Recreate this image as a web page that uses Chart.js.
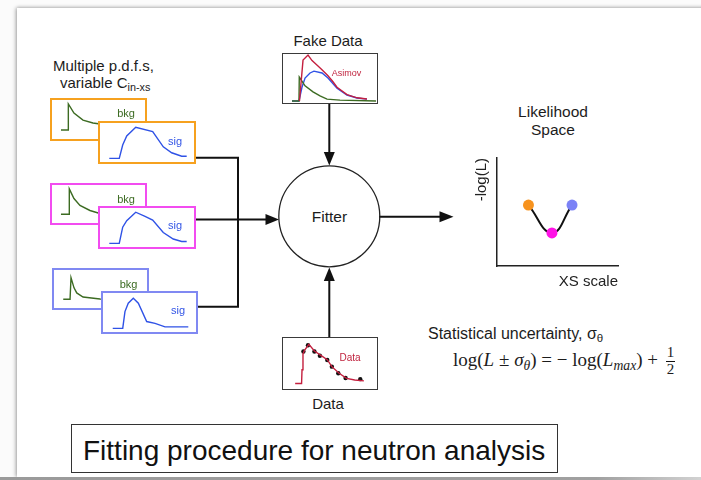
<!DOCTYPE html>
<html>
<head>
<meta charset="utf-8">
<script src="https://cdn.jsdelivr.net/npm/chart.js@4.4.1/dist/chart.umd.min.js"></script>
<style>
  html, body { margin: 0; padding: 0; background: #fbfbfb; }
  #page { position: relative; width: 701px; height: 480px; overflow: hidden;
          font-family: "Liberation Sans", Arial, sans-serif; color: #1c1c1c; }
  #slide { position: absolute; left: 17px; top: 8px; width: 700px; height: 469px; background: #fff;
           box-shadow: -1px 0 4px rgba(0,0,0,0.35), 0 -1px 3px rgba(0,0,0,0.10); }
  #band { position: absolute; left: 0; top: 477px; width: 701px; height: 3px;
          background: linear-gradient(to right, #9a9a9a 0%, #a0a0a0 85%, #d2d2d2 100%); }
  .c { position: absolute; white-space: nowrap; line-height: 1; transform: translate(-50%, -50%); }
  .l { position: absolute; white-space: nowrap; line-height: 1; transform: translate(0, -50%); }
  .box { position: absolute; box-sizing: border-box; border: 2px solid; background: #fff; }
  .box canvas { position: absolute; }
  sub { font-size: 0.72em; vertical-align: -0.28em; line-height: 0; }
  .frac { display: inline-block; vertical-align: middle; text-align: center; font-size: 15px;
          line-height: 1; margin-left: 3px; position: relative; top: -1px; }
  .frac span { display: block; padding: 0 1px; }
  .frac .num { border-bottom: 1px solid #111; padding-bottom: 1px; }
  svg { position: absolute; left: 0; top: 0; }
</style>
</head>
<body>
<div id="page">
  <div id="slide"></div>
  <div id="band"></div>

  <div class="l" style="left:53px;top:65px;font-size:15px;">Multiple p.d.f.s,</div>
  <div class="l" style="left:60px;top:82px;font-size:15px;">variable C<sub>in-xs</sub></div>

  <div class="c" style="left:328px;top:40px;font-size:15px;">Fake Data</div>
  <div class="c" style="left:329.5px;top:217px;font-size:15.5px;">Fitter</div>
  <div class="c" style="left:553px;top:112px;font-size:15.5px;">Likelihood</div>
  <div class="c" style="left:553px;top:129.5px;font-size:15.5px;">Space</div>
  <div class="l" style="left:428px;top:334px;font-size:16px;">Statistical uncertainty, σ<sub>θ</sub></div>
  <div class="l" style="left:453px;top:362px;font-size:19px;font-family:'Liberation Serif','Times New Roman',serif;">log(<i>L</i> ± <i>σ<sub>θ</sub></i>) = − log(<i>L<sub>max</sub></i>) + <span class="frac"><span class="num">1</span><span>2</span></span></div>
  <div class="c" style="left:328px;top:403px;font-size:15px;">Data</div>

  <div style="position:absolute;left:71px;top:424px;width:487px;height:49px;box-sizing:border-box;border:1px solid #333;"></div>
  <div class="l" style="left:83px;top:451px;font-size:28px;color:#111;">Fitting procedure for neutron analysis</div>

  <svg width="701" height="480">
    <g stroke="#111" stroke-width="2" fill="none">
      <path d="M196 157.7 H238 V306.7 H197"/>
      <path d="M196 219.5 H267"/>
      <path d="M329.3 103 V153"/>
      <path d="M329.3 337 V280"/>
      <path d="M379 216.8 H441"/>
    </g>
    <circle cx="329.3" cy="216.3" r="50.5" fill="none" stroke="#222" stroke-width="1.3"/>
    <g fill="#111">
      <polygon points="279,219.5 265.5,214 265.5,225"/>
      <polygon points="329.3,165.5 323.8,152 334.8,152"/>
      <polygon points="329.3,267.5 323.8,281 334.8,281"/>
      <polygon points="453.5,216.8 439.5,211.3 439.5,222.3"/>
    </g>
  </svg>

  <div class="box" id="boxBkgOrange" style="left:50px;top:98px;width:97px;height:43px;border-color:#f6a11f;"></div>
  <div class="c" style="left:126px;top:113px;font-size:11px;color:#3c6b22;">bkg</div>
  <div class="box" id="boxSigOrange" style="left:98px;top:121px;width:98px;height:43px;border-color:#f6a11f;"></div>
  <div class="c" style="left:175px;top:140.5px;font-size:11px;color:#3355e6;">sig</div>

  <div class="box" id="boxBkgMagenta" style="left:50px;top:183px;width:97px;height:42px;border-color:#f24cf0;"></div>
  <div class="c" style="left:126px;top:199px;font-size:11px;color:#3c6b22;">bkg</div>
  <div class="box" id="boxSigMagenta" style="left:98px;top:206px;width:98px;height:43px;border-color:#f24cf0;"></div>
  <div class="c" style="left:175px;top:224.5px;font-size:11px;color:#3355e6;">sig</div>

  <div class="box" id="boxBkgBlue" style="left:52px;top:268px;width:97px;height:42px;border-color:#8089f2;"></div>
  <div class="c" style="left:128.5px;top:283.7px;font-size:11px;color:#3c6b22;">bkg</div>
  <div class="box" id="boxSigBlue" style="left:101px;top:291px;width:97px;height:43px;border-color:#8089f2;"></div>
  <div class="c" style="left:178px;top:309.5px;font-size:11px;color:#3355e6;">sig</div>

  <div class="box" id="boxAsimov" style="left:282px;top:53px;width:96px;height:51px;border-width:1px;border-color:#3a3a3a;"></div>
  <div class="c" style="left:346.5px;top:72.5px;font-size:9px;color:#c0243f;">Asimov</div>

  <div class="box" id="boxData" style="left:282px;top:337px;width:96px;height:53px;border-width:1px;border-color:#3a3a3a;"></div>
  <div class="c" style="left:350px;top:358.3px;font-size:10px;color:#c0243f;">Data</div>

  <canvas id="likelihood" width="170" height="150" style="position:absolute;left:462px;top:150px;"></canvas>
</div>

<script>
// Template shapes: x is the time axis in percent of the panel width,
// y is the amplitude normalised to the tallest peak.
const bkgOrange  = [[11.3,0],[18.6,0],[18.9,1],[24.7,0.65],[34,0.38],[44.3,0.27],[51.5,0.23],[61.9,0.2]];
const sigOrange  = [[11.5,0],[21.7,0],[25.2,0.43],[29.3,0.72],[38.5,1],[55.8,0.86],[66.6,0.37],[75.2,0.18],[85.4,0.07],[90.5,0.07]];
const bkgMagenta = [[11.3,0],[19.6,0],[19.9,1],[24.7,0.62],[30.9,0.35],[41.2,0.15],[50.5,0.04],[61.9,0.02]];
const sigMagenta = [[11.5,0],[21.7,0],[25.2,0.52],[29.3,0.73],[38.5,1],[48,0.87],[55.8,0.75],[66.6,0.35],[76.8,0.14],[85.4,0.06],[90.5,0.06]];
const bkgBlue    = [[11.6,0],[18.6,0],[19.6,0.85],[22.7,0.45],[25.5,0.25],[32,0.09],[49.5,0.01],[59.8,0]];
const sigBlue    = [[12.1,0],[22.4,0],[24.7,0.54],[28.1,0.81],[33.3,0.97],[38.5,0.81],[47.1,0.22],[55.7,0.16],[66,0.05],[90,0.05]];

// Asimov (fake) data set: background, signal and their sum
const asimovBkg   = [[10.4,0],[17.7,0],[18,0.52],[24,0.33],[32.3,0.2],[39.6,0.11],[46.9,0.04],[60.4,0.02],[97.9,0]];
const asimovSig   = [[10.4,0],[17.7,0],[20.8,0.3],[24,0.5],[29.2,0.61],[33.3,0.65],[41.7,0.61],[47.9,0.5],[57.3,0.28],[67.7,0.13],[78.1,0.065],[88.5,0.04]];
const asimovTotal = [[18.2,0],[21.9,0.89],[27.1,1],[31.3,0.88],[37.5,0.76],[42.7,0.66],[47.9,0.55],[53.1,0.42],[57.3,0.3],[67.7,0.14],[78.1,0.07],[88.5,0.045]];

// Measured data: fitted curve and data points
const dataCurve  = [[10.4,0],[17.7,0],[18.2,0.35],[19.3,0.75],[20.8,0.84],[26,1],[32.3,0.83],[39.6,0.72],[46.9,0.61],[52.1,0.43],[60.4,0.26],[68.8,0.13],[78.1,0.09],[88.5,0.065]];
const dataPoints = [[19.8,0.82],[25,0.98],[32.3,0.82],[38.5,0.71],[46.9,0.6],[52.1,0.43],[59.4,0.26],[67.7,0.14],[84.4,0.11]];

// Likelihood scan: cross-section scale vs -log(L) for the three template sets
const xsScale   = [1.3, 2.27, 3.1];
const negLogL   = [2.82, 1.53, 2.82];
const scanColours = ['#f7931e', '#ff12e6', '#7b82f6'];

const GREEN = '#3c6b22', BLUE = '#2f52e6', RED = '#c41f3e';

Chart.defaults.font.family = '"Liberation Sans", Arial, sans-serif';
Chart.defaults.color = '#222';

const pts = arr => arr.map(([x, y]) => ({ x, y }));
const line = (arr, colour, extra) => Object.assign({ data: pts(arr), borderColor: colour, borderWidth: 1.4,
  pointRadius: 0, fill: false, tension: 0 }, extra || {});

function panel(boxId, yRange, datasets) {
  const box = document.getElementById(boxId);
  const bw = parseFloat(box.style.borderWidth || 2);
  const canvas = document.createElement('canvas');
  canvas.width = box.offsetWidth;
  canvas.height = box.offsetHeight;
  canvas.style.left = (-bw) + 'px';
  canvas.style.top = (-bw) + 'px';
  box.appendChild(canvas);
  new Chart(canvas, {
    type: 'line',
    data: { datasets },
    options: {
      responsive: false, animation: false, events: [],
      layout: { padding: 0 },
      plugins: { legend: { display: false }, tooltip: { enabled: false } },
      scales: {
        x: { type: 'linear', display: false, min: 0, max: 100 },
        y: { type: 'linear', display: false, min: yRange[0], max: yRange[1] }
      }
    }
  });
}

const BKG_Y = [-0.42, 1.23], SIG_Y = [-0.18, 1.2];
panel('boxBkgOrange',  BKG_Y, [line(bkgOrange, GREEN)]);
panel('boxSigOrange',  SIG_Y, [line(sigOrange, BLUE)]);
panel('boxBkgMagenta', BKG_Y, [line(bkgMagenta, GREEN)]);
panel('boxSigMagenta', SIG_Y, [line(sigMagenta, BLUE)]);
panel('boxBkgBlue',    BKG_Y, [line(bkgBlue, GREEN)]);
panel('boxSigBlue',    SIG_Y, [line(sigBlue, BLUE)]);

panel('boxAsimov', [-0.065, 1.045], [
  line(asimovTotal, RED),
  line(asimovBkg, GREEN),
  line(asimovSig, BLUE)
]);

panel('boxData', [-0.065, 1.087], [
  line(dataCurve, RED),
  line(dataPoints, '#111', { showLine: false, pointRadius: 2.2, pointBackgroundColor: '#111', pointBorderWidth: 0 })
]);

// Likelihood space
new Chart(document.getElementById('likelihood'), {
  type: 'scatter',
  data: {
    datasets: [{
      data: xsScale.map((x, i) => ({ x, y: negLogL[i] })),
      showLine: true, tension: 0.45, borderColor: '#111', borderWidth: 2,
      pointRadius: 5.5, pointBackgroundColor: scanColours, pointBorderWidth: 0
    }]
  },
  options: {
    responsive: false, animation: false, events: [],
    layout: { padding: { left: 7, right: 14, top: 8, bottom: 5 } },
    plugins: { legend: { display: false }, tooltip: { enabled: false } },
    scales: {
      x: {
        type: 'linear', min: 0, max: 5,
        grid: { display: false, drawTicks: false },
        ticks: { display: false },
        border: { display: true, color: '#222', width: 1.5 },
        title: { display: true, text: 'XS scale', align: 'end', font: { size: 15 }, padding: { top: 7, bottom: 4 } }
      },
      y: {
        type: 'linear', min: 0, max: 5,
        grid: { display: false, drawTicks: false },
        ticks: { display: false },
        border: { display: true, color: '#222', width: 1.5 },
        title: { display: true, text: '-log(L)', align: 'end', font: { size: 15 }, padding: { top: 4, bottom: 6 } }
      }
    }
  }
});
</script>
</body>
</html>
